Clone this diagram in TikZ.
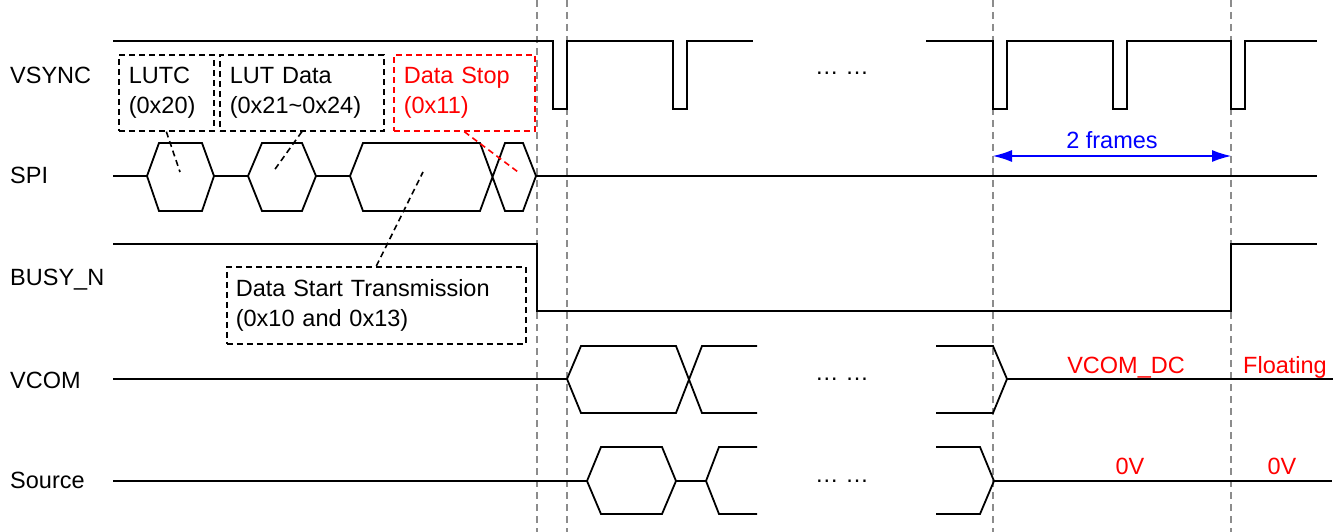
\documentclass[tikz,border=0pt]{standalone}
\usepackage{fontspec}
\setmainfont{Liberation Sans}
\usepackage{xcolor}
\usepackage{tikz}
\usetikzlibrary{
  arrows.meta
}
\definecolor{TmgRed}{HTML}{FF0000}
\definecolor{TmgBlue}{HTML}{0000FF}
\definecolor{TmgGuide}{HTML}{8C8C8C}
\tikzset{
  every picture/.style = {line join=miter, line cap=butt},
  every node/.style = {font=\fontsize{23.5}{30}\selectfont, text=black},
  row label/.style = {anchor=base west, inner sep=0pt},
  wave/.style = {draw=black, line width=1.8pt},
  guide dashed/.style = {draw=TmgGuide, line width=1.5pt, dash pattern=on 7pt off 5pt},
  cmd box/.style = {
    draw=black,
    line width=1.7pt,
    dash pattern=on 6pt off 4pt,
    anchor=north west,
    align=left,
    inner xsep=10pt,
    inner ysep=0pt,
    minimum height=76pt
  },
  cmd box red/.style = {cmd box, draw=TmgRed, text=TmgRed},
  pointer/.style = {draw=black, line width=1.6pt, dash pattern=on 6pt off 4pt},
  pointer red/.style = {pointer, draw=TmgRed},
  level label/.style = {anchor=base, text=TmgRed, inner sep=0pt},
  gap dots/.style = {anchor=base, inner sep=0pt},
  span/.style = {{Latex[length=19pt,width=12pt]}-{Latex[length=19pt,width=12pt]}, draw=TmgBlue, line width=1.2pt},
  span label/.style = {text=TmgBlue},
}

\begin{document}
\begin{tikzpicture}[x=1pt,y=-1pt]
  \useasboundingbox (0,0) rectangle (1342,532);

  % time guides
  \foreach \gx in {537,567,993,1231}
    \draw[guide dashed] (\gx,0) -- (\gx,532);

  % row names
  \node[row label] (vsync) at (10,84) {VSYNC};
  \node[row label] (spi) at (10,184) {SPI};
  \node[row label] (busy) at (10,285) {BUSY\_N};
  \node[row label] (vcom) at (10,388) {VCOM};
  \node[row label] (source) at (10,488) {Source};

  % VSYNC
  \draw[wave] (113,41) -- (553,41) -- (553,109) -- (567,109) -- (567,41) -- (673,41) -- (673,109) -- (687,109) -- (687,41) -- (753,41);
  \draw[wave] (926,41) -- (993,41) -- (993,109) -- (1007,109) -- (1007,41) -- (1113,41) -- (1113,109) -- (1127,109) -- (1127,41)
    -- (1231,41) -- (1231,109) -- (1245,109) -- (1245,41) -- (1317,41);

  % SPI
  \draw[wave] (113,176) -- (147,176);
  \draw[wave] (147,176) -- (159,143) -- (202,143) -- (214,176) -- (202,211) -- (159,211) -- cycle;
  \draw[wave] (214,176) -- (248,176);
  \draw[wave] (248,176) -- (262,143) -- (302,143) -- (316,176) -- (302,211) -- (262,211) -- cycle;
  \draw[wave] (316,176) -- (350,176);
  \draw[wave] (350,176) -- (363,143) -- (480,143) -- (505,211) -- (523,211) -- (536,176) -- (523,143) -- (505,143) -- (480,211) -- (363,211) -- cycle;
  \draw[wave] (536,176) -- (1317,176);

  % BUSY_N
  \draw[wave] (113,244) -- (537,244) -- (537,311) -- (1231,311) -- (1231,244) -- (1317,244);

  % VCOM
  \draw[wave] (113,379) -- (567,379);
  \draw[wave] (567,379) -- (581,346) -- (676,346) -- (702,413) -- (757,413);
  \draw[wave] (567,379) -- (581,413) -- (676,413) -- (702,346) -- (757,346);
  \draw[wave] (936,346) -- (993,346) -- (1007,379) -- (993,413) -- (936,413);
  \draw[wave] (1007,379) -- (1333,379);

  % Source
  \draw[wave] (113,481) -- (587,481);
  \draw[wave] (587,481) -- (601,447) -- (662,447) -- (676,481) -- (662,514) -- (601,514) -- cycle;
  \draw[wave] (676,481) -- (706,481);
  \draw[wave] (757,447) -- (719,447) -- (706,481) -- (719,514) -- (757,514);
  \draw[wave] (936,447) -- (980,447) -- (994,481) -- (980,514) -- (936,514);
  \draw[wave] (994,481) -- (1332,481);

  % skipped frames
  \node[gap dots] (dotsvsync) at (842,75) {… …};
  \node[gap dots] (dotsvcom) at (842,380) {… …};
  \node[gap dots] (dotssource) at (842,482) {… …};

  % command boxes
  \node[cmd box, text width=75pt] (lutc) at (118,54) {LUTC\\(0x20)};
  \node[cmd box, text width=144pt] (lutdata) at (219,54) {LUT Data\\(0x21\textasciitilde 0x24)};
  \node[cmd box red, text width=121pt] (datastop) at (393,54) {Data Stop\\(0x11)};
  \node[cmd box, text width=281pt, inner xsep=9pt, minimum height=77pt] (datastart) at (226,266) {Data Start Transmission\\(0x10 and 0x13)};

  \coordinate (lutcpkt) at (180,172);
  \coordinate (lutdatapkt) at (273,172);
  \coordinate (datapkt) at (423,172);
  \coordinate (stoppkt) at (518,172);

  \draw[pointer] (lutc.south) -- (lutcpkt);
  \draw[pointer] (lutdata.south) -- (lutdatapkt);
  \draw[pointer] (datastart.north) -- (datapkt);
  \draw[pointer red] (datastop.south) -- (stoppkt);

  % two frame span
  \coordinate (framestart) at (993,156);
  \coordinate (frameend) at (1231,156);
  \draw[span] (framestart) -- node[span label, above=3pt] (frames) {2 frames} (frameend);

  % output levels
  \node[level label] (vcomdc) at (1126,373) {VCOM\_DC};
  \node[level label] (floating) at (1285,373) {Floating};
  \node[level label] (srczero) at (1130,474) {0V};
  \node[level label] (srcfloat) at (1282,474) {0V};
\end{tikzpicture}
\end{document}
